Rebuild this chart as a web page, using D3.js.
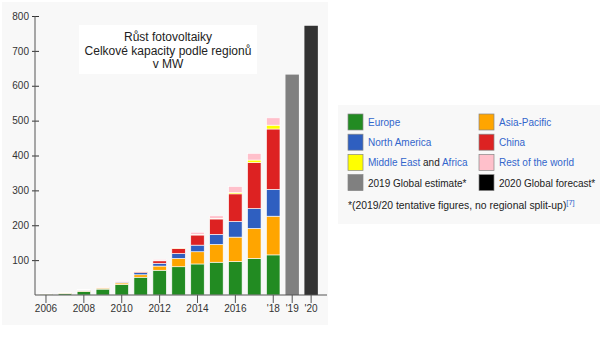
<!DOCTYPE html>
<html><head><meta charset="utf-8">
<script src="https://cdn.jsdelivr.net/npm/d3@7"></script>
<style>body{margin:0;background:#fff;}svg{display:block;font-family:"Liberation Sans",Arial,sans-serif;}</style>
</head><body>
<svg id="c" width="600" height="337"></svg>
<script>
const years = [2006,2007,2008,2009,2010,2011,2012,2013,2014,2015,2016,2017,2018];
const europe       = [2.5, 4.5, 10.4, 16.9, 30, 51, 71, 81, 89, 94, 96, 105, 115];
const asiaPacific  = [1.0, 1.2, 2.6, 3.0, 4.5, 7, 12, 24, 35, 51, 70, 86, 111];
const northAmerica = [0.5, 0.8, 1.2, 1.8, 2.5, 6, 8, 14, 19, 29, 45, 57, 77];
const china        = [0.1, 0.1, 0.1, 0.4, 1.0, 3, 7, 15, 29, 44, 79, 132, 173];
const middleEast   = [0.0, 0.1, 0.1, 0.2, 0.5, 1, 1, 1, 2, 2, 4, 7, 11];
const restOfWorld  = [0.2, 0.3, 0.9, 1.2, 2.0, 2, 3, 2, 6, 7, 17, 19, 21];
const globalYears = [2019, 2020];
const globalTotals = [632, 772];
const allYears = years.concat(globalYears);
const yTicks = [100,200,300,400,500,600,700,800];
const xTicks = [2006,2008,2010,2012,2014,2016,2018,2019,2020];
const xTickLabels = ["2006","2008","2010","2012","2014","2016","'18","'19","'20"];
const titleLines = ["Růst fotovoltaiky","Celkové kapacity podle regionů","v MW"];
const seriesNames = ["Europe","Asia-Pacific","North America","China","Middle East and Africa","Rest of the world"];
const seriesColors = ["#228b22","#ffa500","#2f5fc0","#dd2222","#ffff00","#ffc0cb"];
const globalNames = ["2019 Global estimate*","2020 Global forecast*"];
const globalColors = ["#808080","#333333"];
const globalSwatch = ["#808080","#000000"];

const svg = d3.select("#c");
// panels
svg.append("rect").attr("x",2).attr("y",2).attr("width",326).attr("height",323).attr("fill","#f8f8f8");
svg.append("rect").attr("x",338).attr("y",105).attr("width",262).attr("height",119).attr("fill","#f8f8f8");

const x = d3.scaleBand().domain(allYears).range([36.5, 320.6]).paddingInner(0.29).paddingOuter(0.145);
const y = d3.scaleLinear().domain([0,800]).range([295,16]);

// stacked data
const table = years.map((yr,i)=>({year:yr, Europe:europe[i], "Asia-Pacific":asiaPacific[i], "North America":northAmerica[i], China:china[i], "Middle East and Africa":middleEast[i], "Rest of the world":restOfWorld[i]}));
const stack = d3.stack().keys(seriesNames)(table);
const g = svg.append("g");
stack.forEach((layer,k)=>{
  g.selectAll(null).data(layer).join("rect")
    .attr("x",d=>x(d.data.year)).attr("width",x.bandwidth())
    .attr("y",d=>y(d[1])).attr("height",d=>Math.max(0,y(d[0])-y(d[1])))
    .attr("fill",seriesColors[k]).attr("stroke","#fff").attr("stroke-width",0.6);
});
g.selectAll(null).data(globalYears).join("rect")
  .attr("x",d=>x(d)).attr("width",x.bandwidth())
  .attr("y",(d,i)=>y(globalTotals[i])).attr("height",(d,i)=>y(0)-y(globalTotals[i]))
  .attr("fill",(d,i)=>globalColors[i]);

// y axis
const ya = svg.append("g").attr("transform","translate(35,0)")
  .call(d3.axisLeft(y).tickValues(yTicks).tickSize(3).tickPadding(3));
ya.select(".domain").remove();
ya.selectAll(".tick line").attr("x1",4).attr("x2",-3).attr("stroke","#333");
ya.selectAll("text").attr("font-size","10px").attr("fill","#333").attr("font-family","Liberation Sans, Arial, sans-serif");
svg.append("line").attr("x1",35).attr("x2",35).attr("y1",16).attr("y2",295).attr("stroke","#555");

// x axis
const xa = svg.append("g").attr("transform","translate(0,295)")
  .call(d3.axisBottom(x).tickValues(xTicks).tickSize(8).tickPadding(2).tickFormat((d)=>xTickLabels[xTicks.indexOf(d)]));
xa.select(".domain").remove();
xa.selectAll(".tick line").attr("stroke","#555");
xa.selectAll("text").attr("font-size","10px").attr("fill","#333").attr("font-family","Liberation Sans, Arial, sans-serif");
svg.append("line").attr("x1",35).attr("x2",327).attr("y1",295).attr("y2",295).attr("stroke","#555");

// title box
svg.append("rect").attr("x",79).attr("y",25).attr("width",178).attr("height",49).attr("fill","#fff");
svg.append("text").attr("text-anchor","middle").attr("font-size","12px").attr("fill","#222")
  .selectAll("tspan").data(titleLines).join("tspan")
  .attr("x",168).attr("y",(d,i)=>41+i*13.5).text(d=>d);

// legend
const linkBlue = "#3366cc";
const items = [];
seriesNames.forEach((n,i)=>items.push({name:n,color:seriesColors[i],col:i%2,row:Math.floor(i/2)}));
globalNames.forEach((n,i)=>items.push({name:n,color:globalSwatch[i],col:i,row:3,plain:true}));
const lg = svg.append("g");
items.forEach(it=>{
  const lx = it.col===0 ? 348 : 479;
  const ly = 114 + it.row*20.2;
  lg.append("rect").attr("x",lx).attr("y",ly).attr("width",15).attr("height",16)
    .attr("fill",it.color).attr("stroke","#888").attr("stroke-width",0.7);
  const t = lg.append("text").attr("x",lx+20).attr("y",ly+12).attr("font-size","10px");
  if (it.plain) { t.attr("fill","#222").text(it.name); }
  else if (it.name==="Middle East and Africa") {
    t.append("tspan").attr("fill",linkBlue).text("Middle East");
    t.append("tspan").attr("fill","#222").text(" and ");
    t.append("tspan").attr("fill",linkBlue).text("Africa");
  } else { t.attr("fill",linkBlue).text(it.name); }
});
const fn = lg.append("text").attr("x",348).attr("y",209).attr("font-size","10.4px").attr("fill","#222");
fn.append("tspan").text("*(2019/20 tentative figures, no regional split-up)");
fn.append("tspan").attr("fill",linkBlue).attr("font-size","7.5px").attr("dy",-4).text("[7]");
</script>
</body></html>
